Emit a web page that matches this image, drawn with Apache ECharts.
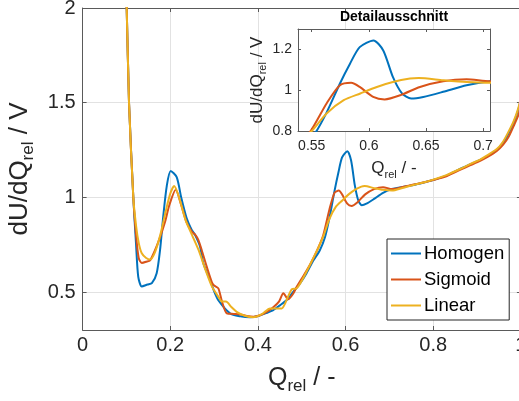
<!DOCTYPE html>
<html>
<head>
<meta charset="utf-8">
<script src="https://cdn.jsdelivr.net/npm/echarts@6/dist/echarts.min.js"></script>
<style>
  html, body { margin: 0; padding: 0; background: #fff; }
  #chart { width: 519px; height: 401px; }
</style>
</head>
<body>
<div id="chart"></div>
<script>
// Differential voltage curves dU/dQ_rel over relative charge for three electrode variants
const homogenQ = [0.0985, 0.1006, 0.1059, 0.1157, 0.122, 0.127, 0.135, 0.148, 0.158, 0.169, 0.1766, 0.184, 0.192, 0.201,
  0.2147, 0.225, 0.2375, 0.249, 0.2565, 0.268, 0.2755, 0.2907, 0.30, 0.3096, 0.3363, 0.36, 0.382, 0.401, 0.42, 0.435,
  0.45, 0.4657, 0.48, 0.496, 0.511, 0.526, 0.541, 0.553, 0.563, 0.5747, 0.5835, 0.592, 0.604, 0.6126, 0.621, 0.629,
  0.637, 0.6476, 0.665, 0.6855, 0.706, 0.73, 0.755, 0.78, 0.80, 0.83, 0.861, 0.885, 0.907, 0.925, 0.945, 0.958,
  0.968, 0.983, 0.994, 1.0];
const homogenU = [2.1, 2.0, 1.5, 1.0, 0.75, 0.58, 0.53, 0.54, 0.547, 0.60, 0.72, 0.90, 1.06, 1.14,
  1.107, 1.0, 0.89, 0.828, 0.802, 0.74, 0.652, 0.564, 0.505, 0.458, 0.388, 0.372, 0.367, 0.374, 0.39, 0.405,
  0.43, 0.458, 0.50, 0.546, 0.60, 0.665, 0.72, 0.79, 0.89, 1.033, 1.13, 1.211, 1.244, 1.195, 1.065, 0.984,
  0.959, 0.967, 0.992, 1.024, 1.044, 1.055, 1.066, 1.08, 1.092, 1.115, 1.15, 1.175, 1.198, 1.22, 1.251, 1.285,
  1.321, 1.392, 1.462, 1.52];

const sigmoidQ = [0.0985, 0.1006, 0.1059, 0.1157, 0.122, 0.128, 0.135, 0.145, 0.154, 0.165, 0.1766, 0.188, 0.198,
  0.2124, 0.225, 0.237, 0.249, 0.258, 0.264, 0.272, 0.283, 0.295, 0.30, 0.3097, 0.318, 0.329, 0.345, 0.36, 0.375,
  0.39, 0.405, 0.42, 0.435, 0.448, 0.458, 0.469, 0.48, 0.4885, 0.505, 0.52, 0.535, 0.549, 0.563, 0.5747, 0.5845,
  0.592, 0.6038, 0.6138, 0.6278, 0.6447, 0.665, 0.6855, 0.706, 0.73, 0.755, 0.78, 0.80, 0.83, 0.861, 0.885, 0.907,
  0.925, 0.945, 0.96, 0.972, 0.985, 0.995, 1.0];
const sigmoidU = [2.1, 2.0, 1.5, 1.0, 0.80, 0.68, 0.654, 0.66, 0.668, 0.72, 0.789, 0.87, 0.96,
  1.04, 0.96, 0.87, 0.82, 0.80, 0.776, 0.72, 0.636, 0.552, 0.535, 0.52, 0.45, 0.388, 0.385, 0.382, 0.374,
  0.37, 0.378, 0.395, 0.42, 0.45, 0.494, 0.462, 0.49, 0.528, 0.59, 0.65, 0.72, 0.80, 0.935, 1.024, 1.036,
  1.016, 0.967, 0.955, 0.976, 1.016, 1.044, 1.054, 1.044, 1.055, 1.068, 1.08, 1.092, 1.112, 1.145, 1.17, 1.193,
  1.215, 1.245, 1.28, 1.32, 1.385, 1.44, 1.49];

const linearQ = [0.0985, 0.1006, 0.1059, 0.1157, 0.122, 0.128, 0.135, 0.145, 0.154, 0.165, 0.177, 0.19, 0.20, 0.209,
  0.22, 0.235, 0.25, 0.265, 0.28, 0.295, 0.31, 0.318, 0.327, 0.34, 0.3516, 0.37, 0.3895, 0.41, 0.4276, 0.4543,
  0.462, 0.477, 0.4885, 0.50, 0.52, 0.535, 0.55, 0.563, 0.578, 0.5925, 0.607, 0.621, 0.636, 0.6436, 0.665, 0.6855,
  0.706, 0.73, 0.755, 0.78, 0.80, 0.83, 0.861, 0.885, 0.907, 0.925, 0.945, 0.958, 0.968, 0.983, 0.994, 1.0];
const linearU = [2.1, 2.0, 1.5, 1.0, 0.85, 0.76, 0.705, 0.68, 0.672, 0.71, 0.80, 0.93, 1.02, 1.06,
  1.0, 0.88, 0.80, 0.72, 0.62, 0.53, 0.475, 0.45, 0.45, 0.42, 0.396, 0.375, 0.367, 0.385, 0.414, 0.414,
  0.44, 0.514, 0.52, 0.56, 0.65, 0.72, 0.80, 0.886, 0.951, 0.984, 1.016, 1.04, 1.057, 1.06, 1.049, 1.04,
  1.036, 1.05, 1.066, 1.08, 1.094, 1.118, 1.15, 1.177, 1.2, 1.225, 1.255, 1.29, 1.33, 1.4, 1.47, 1.53];

const seriesNames = ['Homogen', 'Sigmoid', 'Linear'];
const seriesColors = ['#0072BD', '#D95319', '#EDB120'];

const mainXTicks = [0, 0.2, 0.4, 0.6, 0.8, 1];
const mainYTicks = [0.5, 1, 1.5, 2];
const insetXTicks = [0.55, 0.6, 0.65, 0.7];
const insetYTicks = [0.8, 1, 1.2];

const FONT = '"Liberation Sans", Arial, Helvetica, sans-serif';
const INK = '#262626';
const FRAME = '#5a5a5a';

function pairs(q, u) { return q.map((x, i) => [x, u[i]]); }
const curves = [pairs(homogenQ, homogenU), pairs(sigmoidQ, sigmoidU), pairs(linearQ, linearU)];

function richLabel(main, pad) {
  return {
    color: INK, fontFamily: FONT, fontSize: main,
    rich: {
      m: { fontSize: main, fontFamily: FONT, color: INK },
      s: { fontSize: Math.round(main * 0.66), fontFamily: FONT, color: INK, padding: [pad, 0, 0, 0] }
    }
  };
}

function frameAxis(extra) {
  return Object.assign({
    type: 'value',
    axisLine: { show: true, onZero: false, lineStyle: { color: FRAME, width: 1 } },
    axisTick: { show: true, inside: true, length: 4, lineStyle: { color: FRAME, width: 1 } },
    axisLabel: { show: false },
    splitLine: { show: false }
  }, extra);
}

const xAxes = [
  frameAxis({
    gridIndex: 0, position: 'bottom', min: 0, max: 1,
    axisTick: { show: true, inside: true, length: 4, lineStyle: { color: FRAME }, customValues: mainXTicks },
    axisLabel: { show: true, customValues: mainXTicks, fontSize: 20, color: INK, fontFamily: FONT, margin: 5 },
    splitLine: { show: true, lineStyle: { color: '#e2e2e2', width: 1 } },
    name: '{m|Q}{s|rel}{m| / -}', nameLocation: 'middle', nameGap: 31,
    nameTextStyle: richLabel(25, 17)
  }),
  frameAxis({
    gridIndex: 0, position: 'top', min: 0, max: 1,
    axisTick: { show: true, inside: true, length: 4, lineStyle: { color: FRAME }, customValues: mainXTicks }
  }),
  frameAxis({
    gridIndex: 1, position: 'bottom', min: 0.538, max: 0.706, z: 6,
    axisTick: { show: true, inside: true, length: 3, lineStyle: { color: FRAME }, customValues: insetXTicks },
    axisLabel: { show: true, customValues: insetXTicks, fontSize: 14, color: INK, fontFamily: FONT, margin: 8 },
    name: '{m|Q}{s|rel}{m| / -}', nameLocation: 'middle', nameGap: 26,
    nameTextStyle: richLabel(17, 12)
  }),
  frameAxis({
    gridIndex: 1, position: 'top', min: 0.538, max: 0.706, z: 6,
    axisTick: { show: true, inside: true, length: 3, lineStyle: { color: FRAME }, customValues: insetXTicks }
  })
];

const yAxes = [
  frameAxis({
    gridIndex: 0, position: 'left', min: 0.3, max: 2,
    axisTick: { show: true, inside: true, length: 4, lineStyle: { color: FRAME }, customValues: mainYTicks },
    axisLabel: { show: true, customValues: mainYTicks, fontSize: 20, color: INK, fontFamily: FONT, margin: 7 },
    splitLine: { show: true, lineStyle: { color: '#e2e2e2', width: 1 } },
    name: '{m|dU/dQ}{s|rel}{m| / V}', nameLocation: 'middle', nameRotate: 90, nameGap: 37,
    nameTextStyle: richLabel(26, 18)
  }),
  frameAxis({
    gridIndex: 0, position: 'right', min: 0.3, max: 2,
    axisTick: { show: true, inside: true, length: 4, lineStyle: { color: FRAME }, customValues: mainYTicks }
  }),
  frameAxis({
    gridIndex: 1, position: 'left', min: 0.8, max: 1.3, z: 6,
    axisTick: { show: true, inside: true, length: 3, lineStyle: { color: FRAME }, customValues: insetYTicks },
    axisLabel: { show: true, customValues: insetYTicks, fontSize: 14, color: INK, fontFamily: FONT, margin: 6 },
    name: '{m|dU/dQ}{s|rel}{m| / V}', nameLocation: 'middle', nameRotate: 90, nameGap: 28,
    nameTextStyle: richLabel(17, 12)
  }),
  frameAxis({
    gridIndex: 1, position: 'right', min: 0.8, max: 1.3, z: 6,
    axisTick: { show: true, inside: true, length: 3, lineStyle: { color: FRAME }, customValues: insetYTicks }
  })
];

const series = [];
curves.forEach((data, i) => {
  // full-range view
  series.push({
    type: 'line', name: seriesNames[i], data: data, xAxisIndex: 0, yAxisIndex: 0,
    symbol: 'none', smooth: 0.25, z: 2,
    lineStyle: { color: seriesColors[i], width: 2 }, itemStyle: { color: seriesColors[i] }
  });
  // zoomed detail view
  series.push({
    type: 'line', name: seriesNames[i], data: data, xAxisIndex: 2, yAxisIndex: 2,
    symbol: 'none', smooth: 0.25, z: 7, clip: true,
    lineStyle: { color: seriesColors[i], width: 2 }, itemStyle: { color: seriesColors[i] }
  });
});

const chart = echarts.init(document.getElementById('chart'), null, { renderer: 'canvas' });
chart.setOption({
  backgroundColor: '#fff',
  animation: false,
  grid: [
    { left: 82.6, top: 8, width: 438.3, bottom: 71, containLabel: false, outerBoundsMode: 'none' },
    { left: 298, top: 29, right: 29, bottom: 270, show: true, backgroundColor: '#fff', borderWidth: 0, z: 5,
      containLabel: false, outerBoundsMode: 'none' }
  ],
  xAxis: xAxes,
  yAxis: yAxes,
  legend: {
    data: seriesNames, orient: 'vertical', left: 387, top: 239,
    padding: [5, 5, 5, 4], itemWidth: 30, itemHeight: 2, itemGap: 7, icon: 'rect',
    backgroundColor: '#fff', borderColor: INK, borderWidth: 1, borderRadius: 0,
    textStyle: { fontSize: 18.5, color: '#000', fontFamily: FONT, padding: [0, 0, 0, -2] },
    z: 10
  },
  graphic: [{
    type: 'text', x: 394, y: 17, z: 10,
    style: { text: 'Detailausschnitt', fontSize: 14, fontWeight: 'bold', fontFamily: FONT, fill: '#000',
      align: 'center', verticalAlign: 'middle' }
  }],
  series: series
});
</script>
</body>
</html>
